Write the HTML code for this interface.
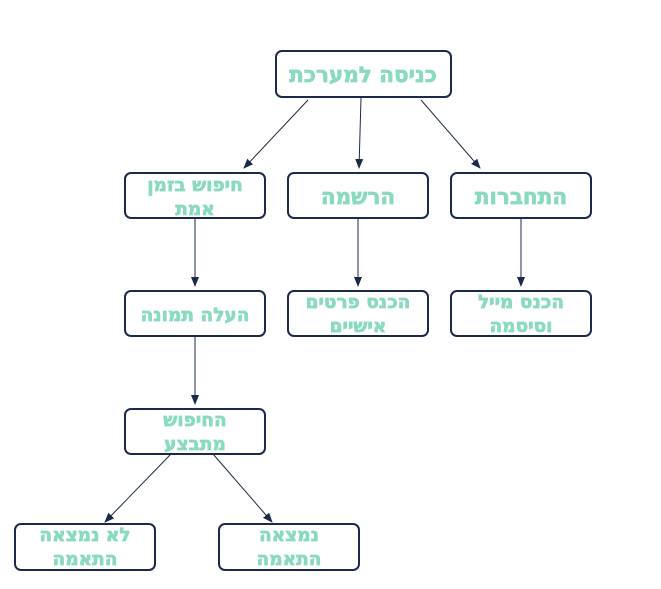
<!DOCTYPE html>
<html><head><meta charset="utf-8"><style>
html,body{margin:0;padding:0;background:#fff;}
svg{display:block;}
text{font-family:"DejaVu Sans","Liberation Sans",sans-serif;font-weight:bold;fill:#8ad9c1;stroke:#8ad9c1;stroke-width:0.7;text-anchor:middle;}
rect{fill:#fff;stroke:#1b2a4a;stroke-width:2;}
line{stroke:#1b2a4a;stroke-width:1;}
</style></head><body>
<svg width="661" height="589" viewBox="0 0 661 589" xmlns="http://www.w3.org/2000/svg">
<defs><marker id="a" markerWidth="10" markerHeight="10" refX="9" refY="5" orient="auto" markerUnits="userSpaceOnUse"><path d="M0,1 L10,5 L0,9 Z" fill="#1b2a4a"/></marker></defs>
<line x1="308" y1="100" x2="244" y2="168" marker-end="url(#a)"/>
<line x1="361" y1="98" x2="359" y2="168" marker-end="url(#a)"/>
<line x1="421" y1="100" x2="480" y2="168" marker-end="url(#a)"/>
<line x1="195" y1="218" x2="195" y2="286" marker-end="url(#a)"/>
<line x1="358" y1="218" x2="358" y2="286" marker-end="url(#a)"/>
<line x1="521" y1="218" x2="521" y2="286" marker-end="url(#a)"/>
<line x1="195" y1="336" x2="195" y2="404" marker-end="url(#a)"/>
<line x1="171" y1="454" x2="105" y2="522" marker-end="url(#a)"/>
<line x1="213" y1="454" x2="272" y2="522" marker-end="url(#a)"/>

<rect x="276" y="51" width="175" height="46" rx="6"/>
<text x="363" y="82" font-size="21.5" font-weight="bold">כניסה למערכת</text>

<rect x="125" y="173" width="140" height="45" rx="6"/>
<text x="195" y="191" font-size="18.5" font-weight="bold">חיפוש בזמן</text>
<text x="195" y="215" font-size="18.5" font-weight="bold">אמת</text>
<rect x="288" y="173" width="140" height="45" rx="6"/>
<text x="358" y="204" font-size="21.5" font-weight="bold">הרשמה</text>
<rect x="451" y="173" width="140" height="45" rx="6"/>
<text x="521" y="204" font-size="21.5" font-weight="bold">התחברות</text>

<rect x="125" y="291" width="140" height="45" rx="6"/>
<text x="195" y="321" font-size="18.5" font-weight="bold">העלה תמונה</text>
<rect x="288" y="291" width="140" height="45" rx="6"/>
<text x="358" y="308" font-size="18.5" font-weight="bold">הכנס פרטים</text>
<text x="358" y="332" font-size="18.5" font-weight="bold">אישיים</text>
<rect x="451" y="291" width="140" height="45" rx="6"/>
<text x="521" y="308" font-size="18.5" font-weight="bold">הכנס מייל</text>
<text x="521" y="332" font-size="18.5" font-weight="bold">וסיסמה</text>

<rect x="125" y="409" width="140" height="45" rx="6"/>
<text x="195" y="426" font-size="18.5" font-weight="bold">החיפוש</text>
<text x="195" y="450" font-size="18.5" font-weight="bold">מתבצע</text>

<rect x="15" y="524" width="140" height="46" rx="6"/>
<text x="85" y="541" font-size="18.5" font-weight="bold">לא נמצאה</text>
<text x="85" y="565" font-size="18.5" font-weight="bold">התאמה</text>
<rect x="219" y="524" width="140" height="46" rx="6"/>
<text x="289" y="541" font-size="18.5" font-weight="bold">נמצאה</text>
<text x="289" y="565" font-size="18.5" font-weight="bold">התאמה</text>
</svg>
</body></html>
